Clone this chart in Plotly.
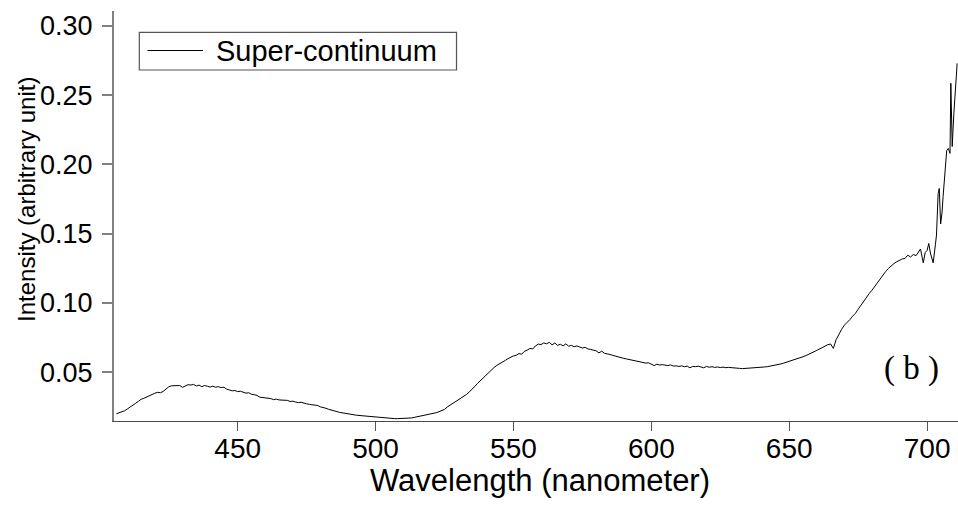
import plotly.graph_objects as go

# Super-continuum spectrum, 1 nm steps from 406 to 696 nm
wl_main = list(range(406, 697))
intensity_main = [
    # 406-415
    0.0200, 0.0206, 0.0214, 0.0222, 0.0235, 0.0247, 0.0259, 0.0276, 0.0290, 0.0305,
    # 416-425
    0.0312, 0.0321, 0.0335, 0.0340, 0.0349, 0.0355, 0.0352, 0.0362, 0.0378, 0.0395,
    # 426-435
    0.0402, 0.0403, 0.0401, 0.0404, 0.0391, 0.0398, 0.0410, 0.0408, 0.0412, 0.0401,
    # 436-445
    0.0407, 0.0396, 0.0404, 0.0399, 0.0393, 0.0399, 0.0392, 0.0396, 0.0389, 0.0392,
    # 446-455
    0.0378, 0.0372, 0.0366, 0.0368, 0.0360, 0.0363, 0.0355, 0.0349, 0.0352, 0.0341,
    # 456-465
    0.0338, 0.0333, 0.0320, 0.0318, 0.0312, 0.0309, 0.0310, 0.0302, 0.0306, 0.0300,
    # 466-475
    0.0298, 0.0294, 0.0297, 0.0289, 0.0291, 0.0285, 0.0281, 0.0283, 0.0276, 0.0272,
    # 476-485
    0.0268, 0.0265, 0.0258, 0.0260, 0.0250, 0.0246, 0.0240, 0.0232, 0.0228, 0.0220,
    # 486-495
    0.0216, 0.0210, 0.0206, 0.0204, 0.0198, 0.0197, 0.0193, 0.0190, 0.0188, 0.0186,
    # 496-505
    0.0184, 0.0181, 0.0179, 0.0178, 0.0176, 0.0176, 0.0171, 0.0173, 0.0168, 0.0170,
    # 506-515
    0.0166, 0.0165, 0.0165, 0.0165, 0.0166, 0.0166, 0.0167, 0.0170, 0.0174, 0.0178,
    # 516-525
    0.0181, 0.0184, 0.0188, 0.0193, 0.0198, 0.0203, 0.0208, 0.0215, 0.0222, 0.0232,
    # 526-535
    0.0249, 0.0262, 0.0276, 0.0287, 0.0298, 0.0312, 0.0325, 0.0340, 0.0358, 0.0375,
    # 536-545
    0.0398, 0.0420, 0.0440, 0.0458, 0.0480, 0.0499, 0.0518, 0.0535, 0.0550, 0.0560,
    # 546-555
    0.0572, 0.0585, 0.0598, 0.0610, 0.0618, 0.0622, 0.0635, 0.0630, 0.0652, 0.0660,
    # 556-565
    0.0672, 0.0668, 0.0690, 0.0703, 0.0700, 0.0712, 0.0705, 0.0716, 0.0698, 0.0711,
    # 566-575
    0.0694, 0.0702, 0.0690, 0.0705, 0.0688, 0.0694, 0.0684, 0.0690, 0.0680, 0.0675,
    # 576-585
    0.0680, 0.0668, 0.0665, 0.0660, 0.0654, 0.0640, 0.0652, 0.0637, 0.0630, 0.0628,
    # 586-595
    0.0622, 0.0616, 0.0608, 0.0604, 0.0600, 0.0596, 0.0592, 0.0588, 0.0580, 0.0578,
    # 596-605
    0.0574, 0.0571, 0.0566, 0.0568, 0.0560, 0.0548, 0.0558, 0.0552, 0.0555, 0.0550,
    # 606-615
    0.0548, 0.0553, 0.0545, 0.0546, 0.0542, 0.0546, 0.0540, 0.0544, 0.0532, 0.0542,
    # 616-625
    0.0540, 0.0544, 0.0536, 0.0532, 0.0542, 0.0536, 0.0540, 0.0535, 0.0538, 0.0534,
    # 626-635
    0.0537, 0.0533, 0.0535, 0.0532, 0.0534, 0.0530, 0.0528, 0.0526, 0.0527, 0.0527,
    # 636-645
    0.0528, 0.0529, 0.0530, 0.0532, 0.0535, 0.0538, 0.0540, 0.0543, 0.0548, 0.0552,
    # 646-655
    0.0556, 0.0560, 0.0566, 0.0572, 0.0578, 0.0584, 0.0590, 0.0596, 0.0604, 0.0612,
    # 656-665
    0.0620, 0.0628, 0.0640, 0.0648, 0.0658, 0.0668, 0.0680, 0.0688, 0.0699, 0.0704,
    # 666-675
    0.0672, 0.0735, 0.0775, 0.0810, 0.0840, 0.0858, 0.0880, 0.0905, 0.0925, 0.0955,
    # 676-685
    0.0985, 0.1010, 0.1040, 0.1068, 0.1092, 0.1120, 0.1150, 0.1178, 0.1205, 0.1228,
    # 686-696
    0.1250, 0.1270, 0.1285, 0.1298, 0.1310, 0.1318, 0.1322, 0.1345, 0.1332, 0.1350,
    0.1342,
]

# Noisy red edge, sampled more finely
wl_tail = [697.6, 698.6, 699.3, 700.0, 700.6, 701.2, 702.2, 703.0, 703.4, 704.0,
           704.4, 704.9, 705.4, 705.8, 706.5, 707.1, 707.7, 708.3, 708.6, 708.8,
           709.1, 709.7, 710.3, 710.9]
intensity_tail = [0.1390, 0.1290, 0.1365, 0.1380, 0.1430, 0.1360, 0.1290, 0.1420, 0.1490, 0.1790,
                  0.1827, 0.1570, 0.1650, 0.1770, 0.1950, 0.2100, 0.2116, 0.2080, 0.2586, 0.2400,
                  0.2130, 0.2370, 0.2550, 0.2730]

wavelength = wl_main + wl_tail
intensity = intensity_main + intensity_tail

series_name = "Super-continuum"
x_ticks = [450, 500, 550, 600, 650, 700]
y_ticks = [0.05, 0.10, 0.15, 0.20, 0.25, 0.30]
x_title = "Wavelength (nanometer)"
y_title = "Intensity (arbitrary unit)"
panel_label = "( b )"

W, H = 958, 505
ML, MR, MT, MB = 114, 0, 11, 84
PW, PH = W - ML - MR, H - MT - MB


def px(x):
    return (x - ML) / PW


def py(y):
    return (H - MB - y) / PH


sans = "Liberation Sans, Arial, sans-serif"
serif = "Liberation Serif, Times New Roman, serif"

fig = go.Figure()
fig.add_trace(go.Scatter(
    x=wavelength, y=intensity, mode="lines", name=series_name,
    line=dict(color="#000000", width=1), showlegend=False,
))

fig.update_layout(
    width=W, height=H,
    margin=dict(l=ML, r=MR, t=MT, b=MB, autoexpand=False),
    paper_bgcolor="white", plot_bgcolor="white",
    font=dict(family=sans, color="black"),
    xaxis=dict(
        range=[405.15, 711.2], tickvals=x_ticks,
        showline=True, linecolor="#4a4a4a", linewidth=1.3,
        ticks="outside", ticklen=9, tickwidth=1.3, tickcolor="#555555",
        showgrid=False, zeroline=False, ticklabelstandoff=-7,
        tickfont=dict(family=sans, size=28, color="black"),
    ),
    yaxis=dict(
        range=[0.0148, 0.3108], tickvals=y_ticks, tickformat=".2f",
        showline=True, linecolor="#808080", linewidth=2,
        ticks="outside", ticklen=10, tickwidth=1.5, tickcolor="#808080",
        showgrid=False, zeroline=False, ticklabelstandoff=4,
        tickfont=dict(family=sans, size=27, color="black"),
    ),
)

# Legend box drawn in paper coordinates
fig.add_shape(type="rect", xref="paper", yref="paper",
              x0=px(139.3), x1=px(456.5), y0=py(70), y1=py(32.3),
              line=dict(color="#555555", width=1.2), fillcolor="white", layer="above")
fig.add_shape(type="line", xref="paper", yref="paper",
              x0=px(147.5), x1=px(203), y0=py(50.5), y1=py(50.5),
              line=dict(color="#000000", width=1), layer="above")
fig.add_annotation(xref="paper", yref="paper", x=px(214), y=py(51),
                   xanchor="left", yanchor="middle", showarrow=False,
                   text=series_name, font=dict(family=sans, size=29, color="black"))

# Axis titles
fig.add_annotation(xref="paper", yref="paper", x=px(540), y=py(481),
                   xanchor="center", yanchor="middle", showarrow=False,
                   text=x_title, font=dict(family=sans, size=31, color="black"))
fig.add_annotation(xref="paper", yref="paper", x=px(26), y=py(200),
                   xanchor="center", yanchor="middle", showarrow=False, textangle=-90,
                   text=y_title, font=dict(family=sans, size=24, color="black"))

# Panel label
fig.add_annotation(xref="paper", yref="paper", x=px(911), y=py(368),
                   xanchor="center", yanchor="middle", showarrow=False,
                   text=panel_label, font=dict(family=serif, size=33, color="black"))

fig.write_html("out.html")
